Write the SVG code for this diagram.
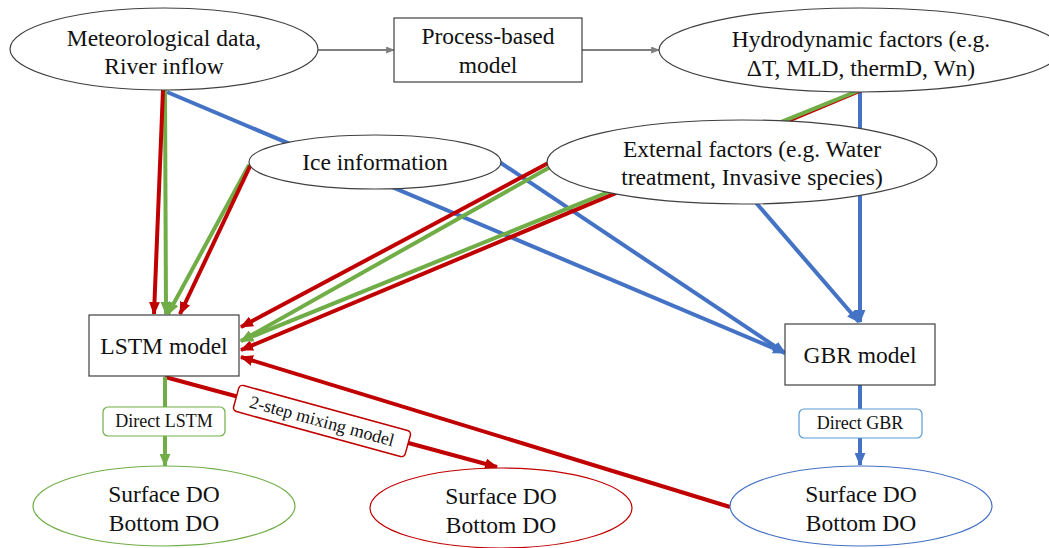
<svg xmlns="http://www.w3.org/2000/svg" width="1049" height="548" viewBox="0 0 1049 548">
<style>
.node{fill:#fff;stroke:#404040;stroke-width:1.2}
.t{font-family:'Liberation Serif','Tinos','Times New Roman','DejaVu Serif',serif;font-size:23.5px;fill:#111;text-anchor:middle}
.s{font-family:'Liberation Serif','Tinos','Times New Roman','DejaVu Serif',serif;font-size:18px;fill:#111;text-anchor:middle}
.r{stroke:#C00000;stroke-width:4;fill:none}
.g{stroke:#70AD47;stroke-width:4;fill:none}
.b{stroke:#4472C4;stroke-width:4;fill:none}
.gr{stroke:#7F7F7F;stroke-width:1.8;fill:none}
</style>
<defs>
<marker id="ar" viewBox="0 0 12 10" refX="11" refY="5" markerWidth="13" markerHeight="11" markerUnits="userSpaceOnUse" orient="auto"><path d="M0,0 L12,5 L0,10 z" fill="#C00000"/></marker>
<marker id="ag" viewBox="0 0 12 10" refX="11" refY="5" markerWidth="13" markerHeight="11" markerUnits="userSpaceOnUse" orient="auto"><path d="M0,0 L12,5 L0,10 z" fill="#70AD47"/></marker>
<marker id="ab" viewBox="0 0 12 10" refX="11" refY="5" markerWidth="13" markerHeight="11" markerUnits="userSpaceOnUse" orient="auto"><path d="M0,0 L12,5 L0,10 z" fill="#4472C4"/></marker>
<marker id="agr" viewBox="0 0 10 8" refX="9" refY="4" markerWidth="9" markerHeight="7" markerUnits="userSpaceOnUse" orient="auto"><path d="M0,0 L10,4 L0,8 z" fill="#7F7F7F"/></marker>
</defs>
<rect width="1049" height="548" fill="#fff"/>
<g id="connectors">
<line class="gr" x1="318" y1="50" x2="394" y2="50" marker-end="url(#agr)"/>
<line class="gr" x1="582" y1="50" x2="659" y2="50" marker-end="url(#agr)"/>
<line class="b" x1="167" y1="92" x2="785" y2="353" marker-end="url(#ab)"/>
<line class="b" x1="495" y1="159" x2="785" y2="353" marker-end="url(#ab)"/>
<line class="b" x1="745" y1="190" x2="859" y2="322" marker-end="url(#ab)"/>
<line class="b" x1="860" y1="88" x2="860" y2="322" marker-end="url(#ab)"/>
<line class="g" x1="165" y1="90" x2="166" y2="314" marker-end="url(#ag)"/>
<line class="r" x1="163" y1="90" x2="154" y2="314" marker-end="url(#ar)"/>
<line class="g" x1="249" y1="165" x2="168" y2="314" marker-end="url(#ag)"/>
<line class="r" x1="252" y1="162" x2="180" y2="314" marker-end="url(#ar)"/>
<line class="r" x1="862" y1="90" x2="241" y2="350" marker-end="url(#ar)"/>
<line class="g" x1="860" y1="90" x2="241" y2="341" marker-end="url(#ag)"/>
<line class="g" x1="552" y1="166" x2="241" y2="341" marker-end="url(#ag)"/>
<line class="r" x1="552" y1="161" x2="241" y2="327" marker-end="url(#ar)"/>
<line class="r" x1="730" y1="507" x2="241" y2="357" marker-end="url(#ar)"/>
<line class="r" x1="165" y1="377" x2="497" y2="467" marker-end="url(#ar)"/>
<line class="g" x1="165" y1="377" x2="165" y2="407"/>
<line class="g" x1="165" y1="436" x2="165" y2="466" marker-end="url(#ag)"/>
<line class="b" x1="860" y1="385" x2="860" y2="409"/>
<line class="b" x1="860" y1="438" x2="860" y2="465" marker-end="url(#ab)"/>
</g>
<g id="met"><ellipse class="node" cx="164" cy="49" rx="154" ry="41"/><text class="t" x="164" y="46">Meteorological data,</text><text class="t" x="164" y="74">River inflow</text></g>
<g id="process"><rect class="node" x="394" y="18" width="188" height="64"/><text class="t" x="488" y="44">Process-based</text><text class="t" x="488" y="73">model</text></g>
<g id="hydro"><ellipse class="node" cx="860" cy="50" rx="201" ry="42"/><text class="t" x="861" y="47">Hydrodynamic factors (e.g.</text><text class="t" x="861" y="76">ΔT, MLD, thermD, Wn)</text></g>
<g id="ice"><ellipse class="node" cx="375" cy="162" rx="126" ry="27"/><text class="t" x="375" y="170">Ice information</text></g>
<g id="external"><ellipse class="node" cx="742" cy="162" rx="195" ry="42"/><text class="t" x="752" y="157">External factors (e.g. Water</text><text class="t" x="752" y="185">treatment, Invasive species)</text></g>
<g id="lstm"><rect class="node" x="89" y="315" width="150" height="61"/><text class="t" x="164" y="354">LSTM model</text></g>
<g id="gbr"><rect class="node" x="785" y="324" width="150" height="61"/><text class="t" x="860" y="363">GBR model</text></g>
<g id="lbl-direct-lstm"><rect x="103" y="407" width="122" height="29" rx="5" fill="#fff" stroke="#70AD47" stroke-width="1.2"/><text class="s" x="164" y="427">Direct LSTM</text></g>
<g id="lbl-direct-gbr"><rect x="799" y="409" width="123" height="29" rx="5" fill="#fff" stroke="#5B9BD5" stroke-width="1.2"/><text class="s" x="860" y="429">Direct GBR</text></g>
<g id="lbl-2step" transform="translate(322,421) rotate(15.3)"><rect x="-89" y="-13.5" width="178" height="27" rx="4" fill="#fff" stroke="#C00000" stroke-width="1.5"/><text class="s" x="0" y="6">2-step mixing model</text></g>
<g id="out-lstm"><ellipse cx="164" cy="506" rx="131" ry="40" fill="#fff" stroke="#70AD47" stroke-width="1.2"/><text class="t" x="164" y="502">Surface DO</text><text class="t" x="164" y="531">Bottom DO</text></g>
<g id="out-mix"><ellipse cx="501" cy="508" rx="131" ry="40" fill="#fff" stroke="#C00000" stroke-width="1.2"/><text class="t" x="501" y="504">Surface DO</text><text class="t" x="501" y="533">Bottom DO</text></g>
<g id="out-gbr"><ellipse cx="861" cy="506" rx="131" ry="40" fill="#fff" stroke="#4472C4" stroke-width="1.2"/><text class="t" x="861" y="502">Surface DO</text><text class="t" x="861" y="531">Bottom DO</text></g>
</svg>
